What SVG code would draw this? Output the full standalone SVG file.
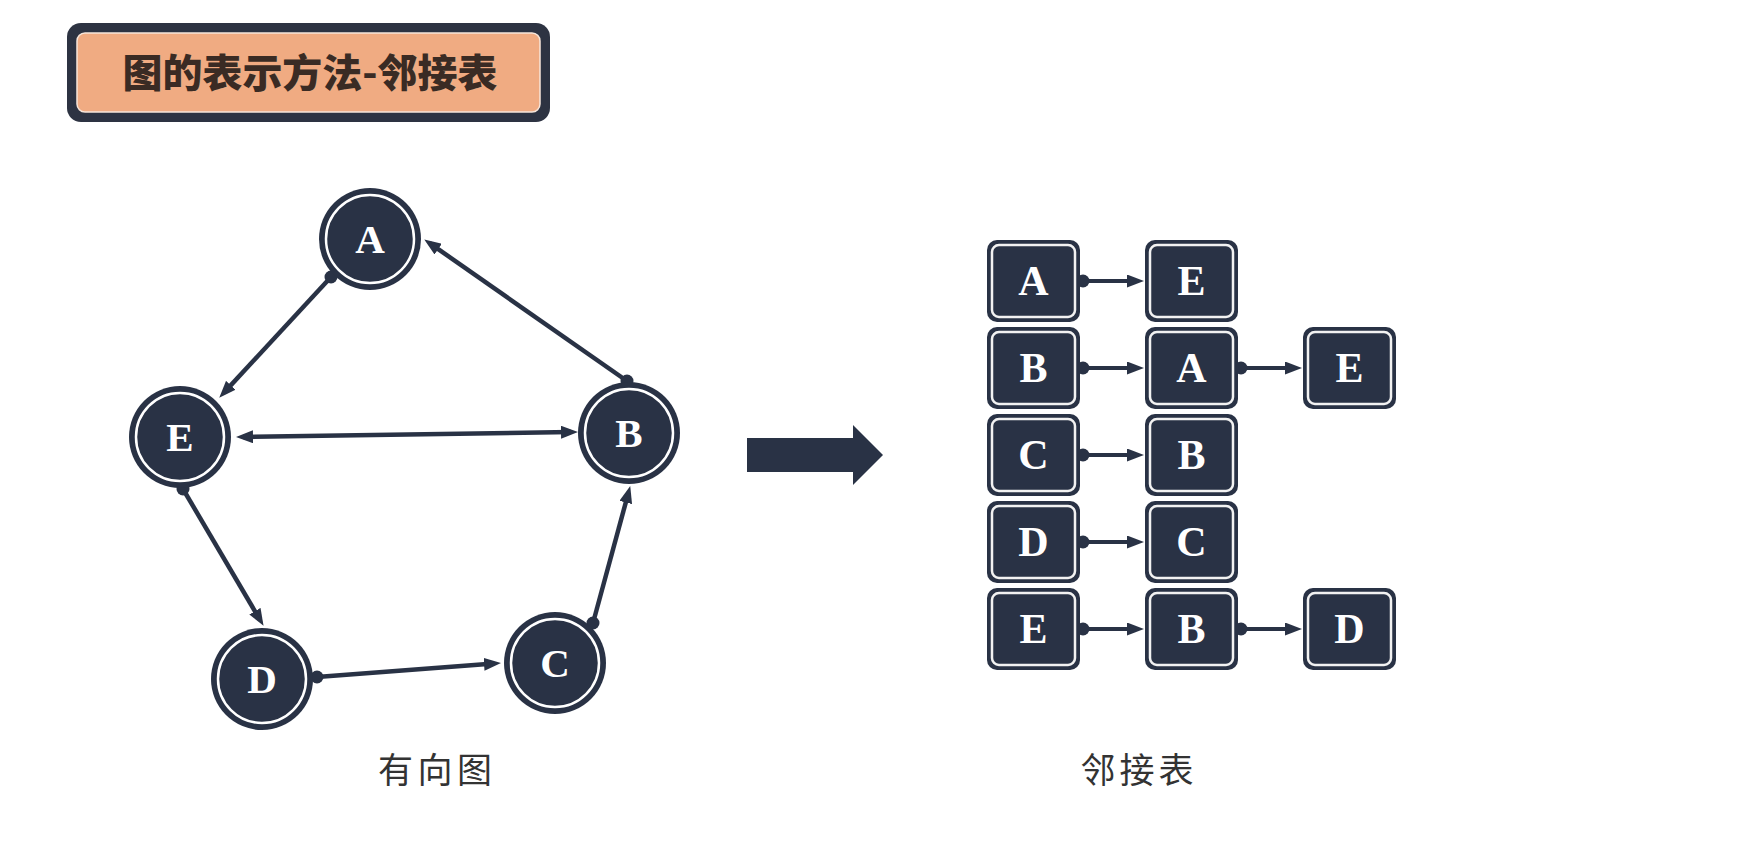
<svg xmlns="http://www.w3.org/2000/svg" width="1762" height="842" viewBox="0 0 1762 842">
  <style>
    .ring-out { fill: #293245; }
    .ring-in { fill: #293245; stroke: #ffffff; stroke-width: 2.5; }
    .box-out { fill: #293245; }
    .box-in { fill: #293245; stroke: #f2f2f2; stroke-width: 2.5; }
    .lt { fill: #ffffff; font-family: "Liberation Serif", "DejaVu Serif", serif; font-weight: bold; text-anchor: middle; }
    .edge { stroke: #293245; stroke-width: 4.5; fill: none; }
    .ledge { stroke: #293245; stroke-width: 4; fill: none; }
    .cap { fill: #333333; font-family: "Noto Sans CJK SC", "Noto Sans", sans-serif; font-size: 35px; text-anchor: middle; }
  </style>
  <defs>
    <marker id="arr" viewBox="0 0 17 13" refX="10" refY="6.5" markerWidth="17" markerHeight="13" markerUnits="userSpaceOnUse" orient="auto-start-reverse">
      <path d="M0,0 L17,6.5 L0,13 Z" fill="#293245"/>
    </marker>
    <marker id="dot" viewBox="-7 -7 14 14" refX="0" refY="0" markerWidth="14" markerHeight="14" markerUnits="userSpaceOnUse">
      <circle cx="0" cy="0" r="6.5" fill="#293245"/>
    </marker>
  </defs>
  <rect width="1762" height="842" fill="#ffffff"/>

  <g id="title">
    <rect x="67" y="23" width="483" height="99" rx="14" fill="#2d3342"/>
    <rect x="77" y="33" width="463" height="79" rx="8" fill="#f0ab82" stroke="#f7e6da" stroke-width="1.5"/>
    <text x="310" y="87" font-family="Noto Sans CJK SC, sans-serif" font-size="39" font-weight="900" fill="#3a2b24" text-anchor="middle" textLength="375" lengthAdjust="spacingAndGlyphs">图的表示方法-邻接表</text>
  </g>

  <g id="connectors">
    <line class="edge" x1="331" y1="277" x2="224" y2="392.6" marker-start="url(#dot)" marker-end="url(#arr)"/>
    <line class="edge" x1="627" y1="381" x2="430" y2="243.4" marker-start="url(#dot)" marker-end="url(#arr)"/>
    <line class="edge" x1="243" y1="436.9" x2="571" y2="432.1" marker-start="url(#arr)" marker-end="url(#arr)"/>
    <line class="edge" x1="183" y1="489" x2="260" y2="619.8" marker-start="url(#dot)" marker-end="url(#arr)"/>
    <line class="edge" x1="317" y1="677" x2="494" y2="663.5" marker-start="url(#dot)" marker-end="url(#arr)"/>
    <line class="edge" x1="593" y1="623" x2="628.4" y2="492.8" marker-start="url(#dot)" marker-end="url(#arr)"/>

    <line class="ledge" x1="1083" y1="281" x2="1137" y2="281" marker-start="url(#dot)" marker-end="url(#arr)"/>
    <line class="ledge" x1="1083" y1="368" x2="1137" y2="368" marker-start="url(#dot)" marker-end="url(#arr)"/>
    <line class="ledge" x1="1241" y1="368" x2="1295" y2="368" marker-start="url(#dot)" marker-end="url(#arr)"/>
    <line class="ledge" x1="1083" y1="455" x2="1137" y2="455" marker-start="url(#dot)" marker-end="url(#arr)"/>
    <line class="ledge" x1="1083" y1="542" x2="1137" y2="542" marker-start="url(#dot)" marker-end="url(#arr)"/>
    <line class="ledge" x1="1083" y1="629" x2="1137" y2="629" marker-start="url(#dot)" marker-end="url(#arr)"/>
    <line class="ledge" x1="1241" y1="629" x2="1295" y2="629" marker-start="url(#dot)" marker-end="url(#arr)"/>
  </g>

  <g id="node-A">
    <circle class="ring-out" cx="370" cy="239" r="51"/>
    <circle class="ring-in" cx="370" cy="239" r="44"/>
    <text class="lt" x="370" y="253" font-size="41">A</text>
  </g>
  <g id="node-B">
    <circle class="ring-out" cx="629" cy="433" r="51"/>
    <circle class="ring-in" cx="629" cy="433" r="44"/>
    <text class="lt" x="629" y="447" font-size="41">B</text>
  </g>
  <g id="node-C">
    <circle class="ring-out" cx="555" cy="663" r="51"/>
    <circle class="ring-in" cx="555" cy="663" r="44"/>
    <text class="lt" x="555" y="677" font-size="41">C</text>
  </g>
  <g id="node-D">
    <circle class="ring-out" cx="262" cy="679" r="51"/>
    <circle class="ring-in" cx="262" cy="679" r="44"/>
    <text class="lt" x="262" y="693" font-size="41">D</text>
  </g>
  <g id="node-E">
    <circle class="ring-out" cx="180" cy="437" r="51"/>
    <circle class="ring-in" cx="180" cy="437" r="44"/>
    <text class="lt" x="180" y="451" font-size="41">E</text>
  </g>

  <g id="caption-graph">
    <text class="cap" x="435" y="783" textLength="114">有向图</text>
  </g>

  <g id="transform-arrow">
    <path d="M747,438 L853,438 L853,425 L883,455 L853,485 L853,472 L747,472 Z" fill="#293245"/>
  </g>

  <g id="list-A">
    <g id="cell-A0"><rect class="box-out" x="987" y="240" width="93" height="82" rx="10"/><rect class="box-in" x="992" y="245" width="83" height="72" rx="7"/><text class="lt" x="1033.5" y="295" font-size="42">A</text></g>
    <g id="cell-A1"><rect class="box-out" x="1145" y="240" width="93" height="82" rx="10"/><rect class="box-in" x="1150" y="245" width="83" height="72" rx="7"/><text class="lt" x="1191.5" y="295" font-size="42">E</text></g>
  </g>
  <g id="list-B">
    <g id="cell-B0"><rect class="box-out" x="987" y="327" width="93" height="82" rx="10"/><rect class="box-in" x="992" y="332" width="83" height="72" rx="7"/><text class="lt" x="1033.5" y="382" font-size="42">B</text></g>
    <g id="cell-B1"><rect class="box-out" x="1145" y="327" width="93" height="82" rx="10"/><rect class="box-in" x="1150" y="332" width="83" height="72" rx="7"/><text class="lt" x="1191.5" y="382" font-size="42">A</text></g>
    <g id="cell-B2"><rect class="box-out" x="1303" y="327" width="93" height="82" rx="10"/><rect class="box-in" x="1308" y="332" width="83" height="72" rx="7"/><text class="lt" x="1349.5" y="382" font-size="42">E</text></g>
  </g>
  <g id="list-C">
    <g id="cell-C0"><rect class="box-out" x="987" y="414" width="93" height="82" rx="10"/><rect class="box-in" x="992" y="419" width="83" height="72" rx="7"/><text class="lt" x="1033.5" y="469" font-size="42">C</text></g>
    <g id="cell-C1"><rect class="box-out" x="1145" y="414" width="93" height="82" rx="10"/><rect class="box-in" x="1150" y="419" width="83" height="72" rx="7"/><text class="lt" x="1191.5" y="469" font-size="42">B</text></g>
  </g>
  <g id="list-D">
    <g id="cell-D0"><rect class="box-out" x="987" y="501" width="93" height="82" rx="10"/><rect class="box-in" x="992" y="506" width="83" height="72" rx="7"/><text class="lt" x="1033.5" y="556" font-size="42">D</text></g>
    <g id="cell-D1"><rect class="box-out" x="1145" y="501" width="93" height="82" rx="10"/><rect class="box-in" x="1150" y="506" width="83" height="72" rx="7"/><text class="lt" x="1191.5" y="556" font-size="42">C</text></g>
  </g>
  <g id="list-E">
    <g id="cell-E0"><rect class="box-out" x="987" y="588" width="93" height="82" rx="10"/><rect class="box-in" x="992" y="593" width="83" height="72" rx="7"/><text class="lt" x="1033.5" y="643" font-size="42">E</text></g>
    <g id="cell-E1"><rect class="box-out" x="1145" y="588" width="93" height="82" rx="10"/><rect class="box-in" x="1150" y="593" width="83" height="72" rx="7"/><text class="lt" x="1191.5" y="643" font-size="42">B</text></g>
    <g id="cell-E2"><rect class="box-out" x="1303" y="588" width="93" height="82" rx="10"/><rect class="box-in" x="1308" y="593" width="83" height="72" rx="7"/><text class="lt" x="1349.5" y="643" font-size="42">D</text></g>
  </g>

  <g id="caption-list">
    <text class="cap" x="1137" y="783" textLength="113">邻接表</text>
  </g>
</svg>
